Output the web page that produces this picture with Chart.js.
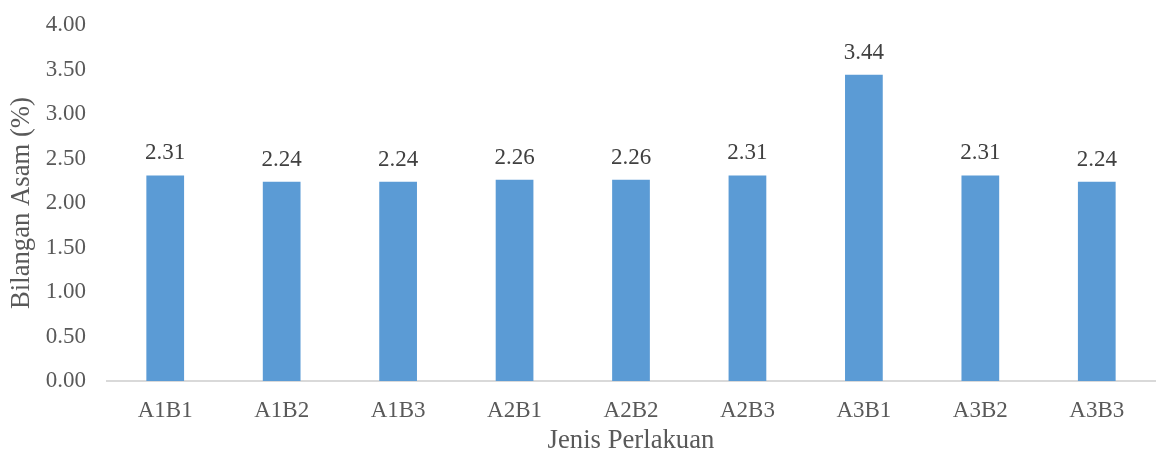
<!DOCTYPE html>
<html>
<head>
<meta charset="utf-8">
<script src="https://cdn.jsdelivr.net/npm/chart.js@4.4.1/dist/chart.umd.min.js"></script>
<style>
  html, body { margin: 0; padding: 0; background: #ffffff; }
  #wrap { width: 1169px; height: 455px; position: relative; }
</style>
</head>
<body>
<div id="wrap"><canvas id="c"></canvas></div>
<script>
const categories = ['A1B1', 'A1B2', 'A1B3', 'A2B1', 'A2B2', 'A2B3', 'A3B1', 'A3B2', 'A3B3'];
const acidValues = [2.31, 2.24, 2.24, 2.26, 2.26, 2.31, 3.44, 2.31, 2.24];
const yTicks = [0, 0.5, 1, 1.5, 2, 2.5, 3, 3.5, 4];

const FONT = "'Liberation Serif', 'Times New Roman', serif";

// Value labels drawn above each bar
const valueLabels = {
  id: 'valueLabels',
  afterDatasetsDraw(chart) {
    const ctx = chart.ctx;
    const meta = chart.getDatasetMeta(0);
    ctx.save();
    ctx.font = '23px ' + FONT;
    ctx.fillStyle = '#404040';
    ctx.textAlign = 'center';
    ctx.textBaseline = 'alphabetic';
    meta.data.forEach((bar, i) => {
      ctx.fillText(acidValues[i].toFixed(2), bar.x, bar.y - 16);
    });
    ctx.restore();
  }
};

new Chart(document.getElementById('c'), {
  type: 'bar',
  data: {
    labels: categories,
    datasets: [{
      data: acidValues,
      backgroundColor: '#5B9BD5',
      borderWidth: 0,
      categoryPercentage: 1,
      barPercentage: 0.324
    }]
  },
  options: {
    responsive: true,
    maintainAspectRatio: false,
    animation: false,
    layout: { padding: { top: 20, right: 14, bottom: 0, left: 0 } },
    plugins: { legend: { display: false }, tooltip: { enabled: false } },
    scales: {
      x: {
        afterFit(scale) { scale.height = 74; },
        grid: { display: false, drawTicks: false },
        border: { display: true, color: '#D9D9D9', width: 2 },
        ticks: { color: '#595959', font: { family: FONT, size: 23 }, padding: 16, maxRotation: 0 },
        title: {
          display: true, text: 'Jenis Perlakuan', color: '#595959',
          font: { family: FONT, size: 26.7, lineHeight: 1 }, padding: { top: 0, bottom: 1 }
        }
      },
      y: {
        min: 0, max: 4,
        afterFit(scale) { scale.width = 107; },
        afterBuildTicks(axis) { axis.ticks = yTicks.map(v => ({ value: v })); },
        grid: { display: false, drawTicks: false },
        border: { display: false },
        ticks: {
          color: '#595959', font: { family: FONT, size: 23, lineHeight: 0.35 }, padding: 21,
          callback: v => Number(v).toFixed(2)
        },
        title: {
          display: true, text: 'Bilangan Asam (%)', color: '#595959',
          font: { family: FONT, size: 26.7, lineHeight: 1 }, padding: { top: 9, bottom: 0 }
        }
      }
    }
  },
  plugins: [valueLabels]
});
</script>
</body>
</html>
